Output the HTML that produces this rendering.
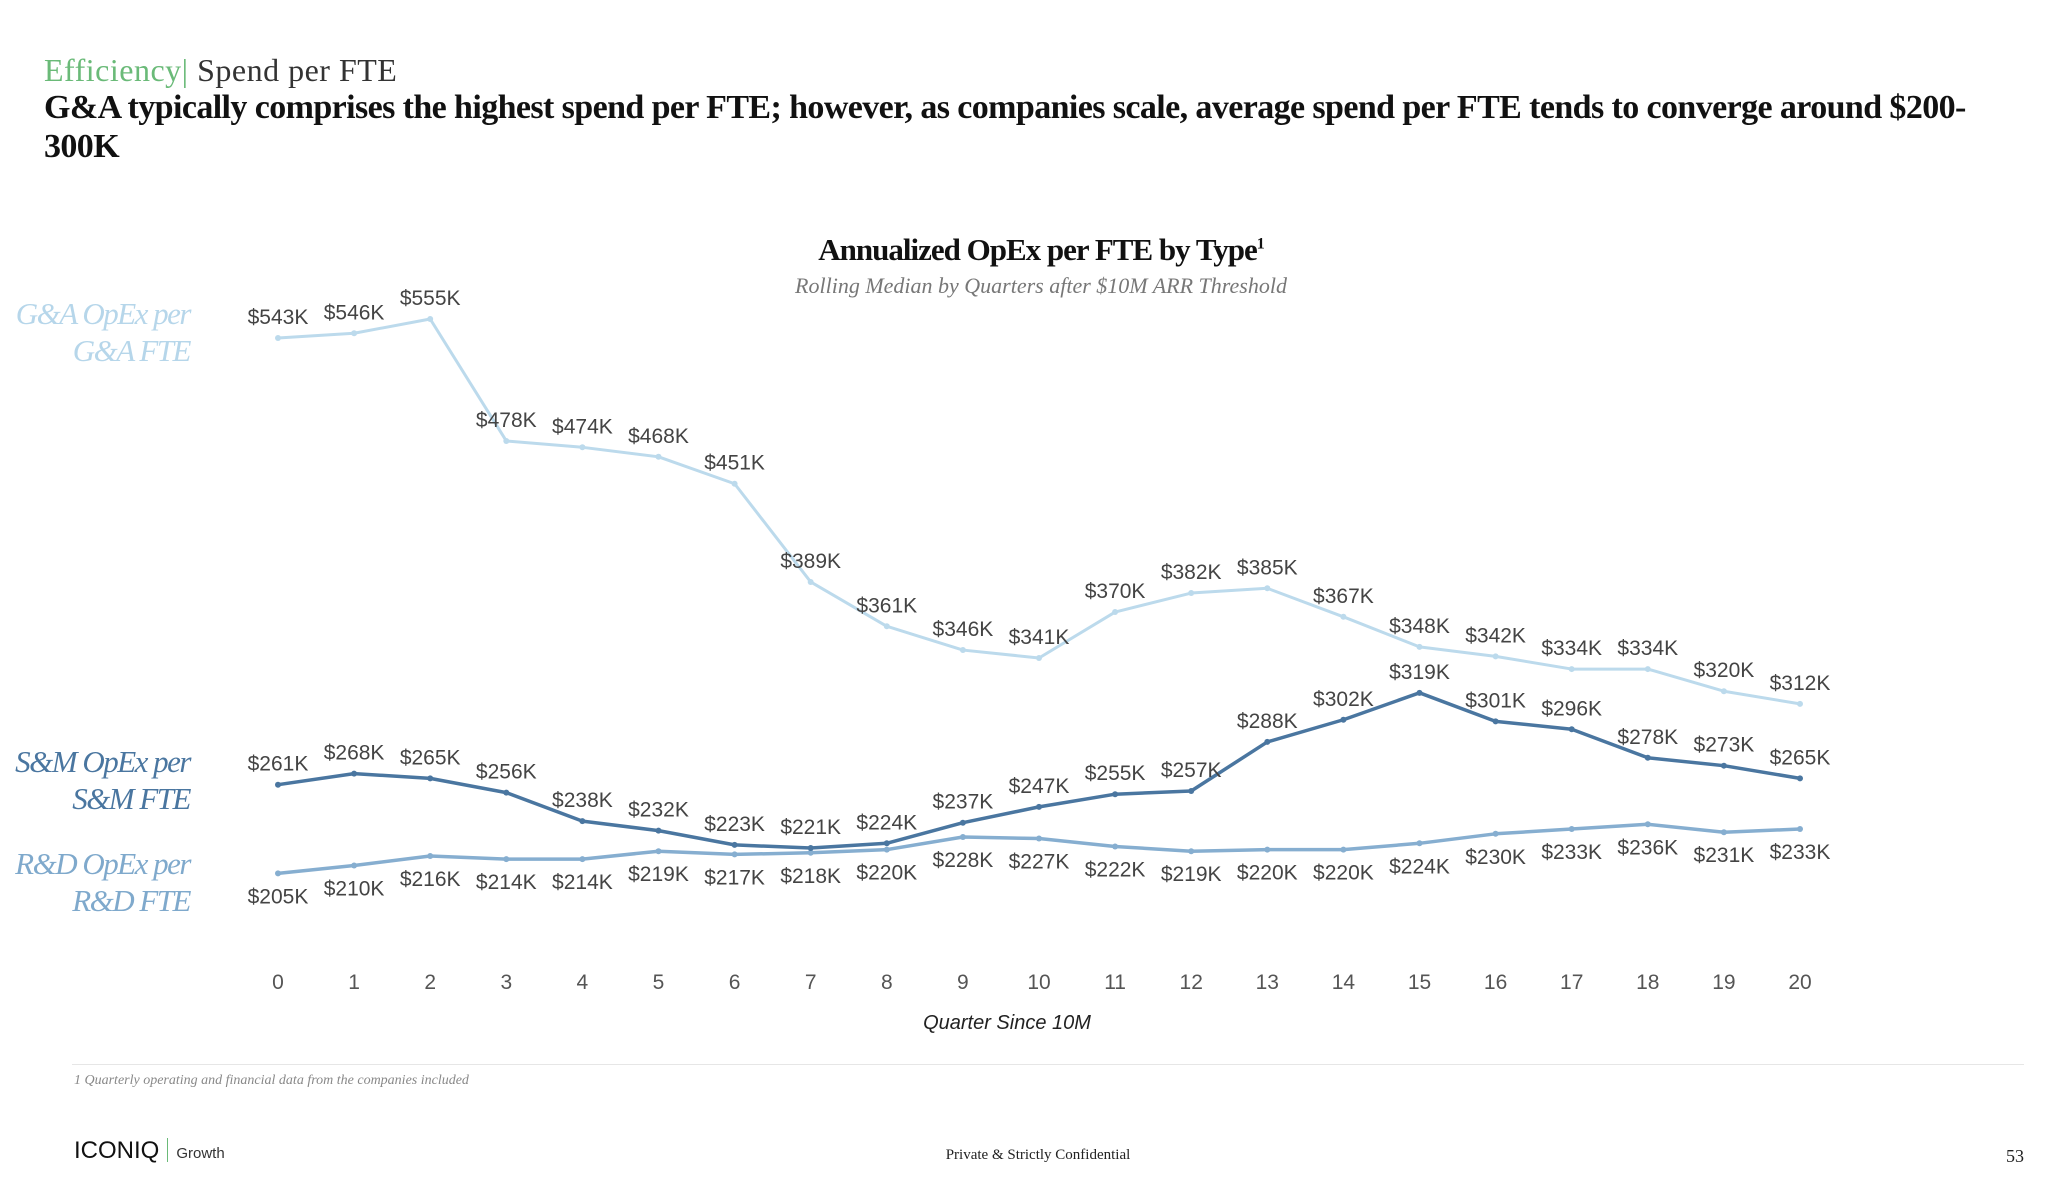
<!DOCTYPE html>
<html><head><meta charset="utf-8">
<style>
html,body{margin:0;padding:0;background:#fff;}
body{width:2048px;height:1178px;position:relative;overflow:hidden;font-family:"Liberation Serif",serif;}
.abs{position:absolute;white-space:nowrap;}
.lab{font-family:"Liberation Serif",serif;font-style:italic;font-size:31px;text-align:right;right:1858px;line-height:37px;letter-spacing:-1.5px;}
</style></head>
<body>
<div class="abs" style="left:44px;top:52px;font-size:32px;letter-spacing:0.5px;color:#333;"><span style="color:#6aba78">Efficiency</span><span style="color:#6aba78">|</span> Spend per FTE</div>
<div class="abs" style="left:44px;top:88px;font-size:34px;font-weight:bold;color:#111;line-height:39px;letter-spacing:-0.6px;">G&amp;A typically comprises the highest spend per FTE; however, as companies scale, average spend per FTE tends to converge around $200-<br>300K</div>
<div class="abs" style="left:0;width:2082px;text-align:center;top:232px;font-size:31px;font-weight:bold;color:#111;letter-spacing:-1px;">Annualized OpEx per FTE by Type<sup style="font-size:16px">1</sup></div>
<div class="abs" style="left:0;width:2082px;text-align:center;top:273px;font-size:22px;font-style:italic;color:#777;">Rolling Median by Quarters after $10M ARR Threshold</div>
<div class="abs lab" style="top:295px;color:#b6d6ea;">G&amp;A OpEx per<br>G&amp;A FTE</div>
<div class="abs lab" style="top:743px;color:#4a76a0;">S&amp;M OpEx per<br>S&amp;M FTE</div>
<div class="abs lab" style="top:845px;color:#7fa9cc;">R&amp;D OpEx per<br>R&amp;D FTE</div>
<svg id="chart" width="2048" height="1178" style="position:absolute;left:0;top:0;"></svg>
<div class="abs" style="left:0;width:2014px;text-align:center;top:1012px;font-family:'Liberation Sans Narrow','Liberation Sans',sans-serif;font-style:italic;font-size:20px;color:#222;">Quarter Since 10M</div>
<div class="abs" style="left:72px;width:1952px;top:1064px;height:1px;background:#e6e6e6;"></div>
<div class="abs" style="left:74px;top:1073px;font-size:14px;font-style:italic;color:#888;">1 Quarterly operating and financial data from the companies included</div>
<div class="abs" style="left:74px;top:1137px;font-family:'Liberation Sans Narrow','Liberation Sans',sans-serif;font-size:24px;color:#111;">ICONIQ<span style="display:inline-block;width:1px;height:24px;background:#6aba78;margin:0 8px -4px 8px;"></span><span style="font-size:15px;color:#333;">Growth</span></div>
<div class="abs" style="left:0;width:2076px;text-align:center;top:1147px;font-size:15px;color:#222;">Private &amp; Strictly Confidential</div>
<div class="abs" style="right:24px;top:1146px;font-size:18px;color:#222;">53</div>
<script>
const quarters=[0,1,2,3,4,5,6,7,8,9,10,11,12,13,14,15,16,17,18,19,20];
const gaValues=[543,546,555,478,474,468,451,389,361,346,341,370,382,385,367,348,342,334,334,320,312];
const smValues=[261,268,265,256,238,232,223,221,224,237,247,255,257,288,302,319,301,296,278,273,265];
const rdValues=[205,210,216,214,214,219,217,218,220,228,227,222,219,220,220,224,230,233,236,231,233];
const NS='http://www.w3.org/2000/svg';
const svg=document.getElementById('chart');
function xs(q){return 278+q*76.1;}
function ys(v){return 319+(555-v)*1.584;}
function series(vals,color,width,name,below){
  const p=document.createElementNS(NS,'polyline');
  p.setAttribute('points',vals.map((v,i)=>xs(quarters[i])+','+ys(v)).join(' '));
  p.setAttribute('fill','none');p.setAttribute('stroke',color);p.setAttribute('stroke-width',width);p.setAttribute('stroke-linejoin','round');
  
  
  svg.appendChild(p);
  vals.forEach((v,i)=>{
    const c=document.createElementNS(NS,'circle');
    c.setAttribute('cx',xs(quarters[i]));c.setAttribute('cy',ys(v));c.setAttribute('r',3);c.setAttribute('fill',color);
    
    
    svg.appendChild(c);
    const t=document.createElementNS(NS,'text');
    t.setAttribute('x',xs(quarters[i]));t.setAttribute('y',ys(v)+(below?30:-14));
    t.setAttribute('text-anchor','middle');t.setAttribute('font-size','21');t.setAttribute('fill','#444');
    t.setAttribute('font-family','"Liberation Sans Narrow","Liberation Sans",sans-serif');
    t.textContent='$'+v+'K';
    
    
    svg.appendChild(t);
  });
}
series(gaValues,'#bcdaec',3,'ga',false);
series(rdValues,'#86aed0',3.5,'rd',true);
series(smValues,'#4a76a0',3.5,'sm',false);
quarters.forEach(q=>{
  const t=document.createElementNS(NS,'text');
  t.setAttribute('x',xs(q));t.setAttribute('y',989);t.setAttribute('text-anchor','middle');
  t.setAttribute('font-size','21');t.setAttribute('fill','#555');
  t.setAttribute('font-family','"Liberation Sans Narrow","Liberation Sans",sans-serif');
  t.textContent=q;
  
  
  svg.appendChild(t);
});
</script>
</body></html>
